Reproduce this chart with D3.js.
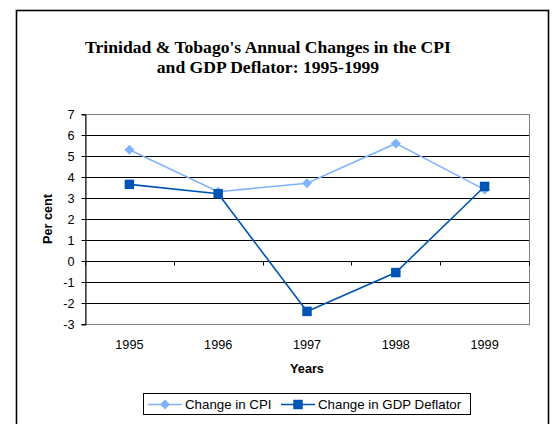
<!DOCTYPE html>
<html>
<head>
<meta charset="utf-8">
<script src="https://cdn.jsdelivr.net/npm/d3@7"></script>
<style>
  body { margin: 0; background: #fff; }
  svg { display: block; }
</style>
</head>
<body>
<div id="chart"></div>
<script>
'use strict';

// data
const years = ['1995', '1996', '1997', '1998', '1999'];
const cpi = [5.3, 3.3, 3.7, 5.6, 3.4];
const deflator = [3.65, 3.2, -2.4, -0.55, 3.55];
const yTicks = [-3, -2, -1, 0, 1, 2, 3, 4, 5, 6, 7];
const seriesNames = ['Change in CPI', 'Change in GDP Deflator'];

const width = 554;
const height = 424;
const plot = {left: 85, right: 529, top: 114, bottom: 324};

const cpiColor = '#80b2ff';
const defColor = '#0055b4';
const sans = '"Liberation Sans", Arial, sans-serif';

let svg = d3.select('#chart').append('svg')
    .attr('width', width)
    .attr('height', height);

// outer frame (runs off the bottom of the picture)
svg.append('rect')
    .attr('x', 16.5).attr('y', 10.5)
    .attr('width', 532).attr('height', 440)
    .attr('fill', '#fff')
    .attr('stroke', '#000')
    .attr('stroke-width', 1.6);

// title
let title = svg.append('text')
    .attr('text-anchor', 'middle')
    .style('font-family', '"Liberation Serif", "Times New Roman", serif')
    .style('font-weight', 'bold')
    .style('font-size', '17.6px');
title.append('tspan').attr('x', 268).attr('y', 53)
    .text("Trinidad & Tobago's Annual Changes in the CPI");
title.append('tspan').attr('x', 268).attr('y', 73)
    .text('and GDP Deflator: 1995-1999');

let x = d3.scaleBand()
    .domain(years)
    .range([plot.left, plot.right])
    .padding(0);

let y = d3.scaleLinear()
    .domain([-3, 7])
    .range([plot.bottom, plot.top]);

// gridlines
svg.append('g')
    .selectAll('line')
    .data(yTicks.filter(function(d) { return d > -3 && d < 7; }))
    .enter().append('line')
        .attr('x1', plot.left).attr('x2', plot.right)
        .attr('y1', function(d) { return Math.round(y(d)) + 0.5; })
        .attr('y2', function(d) { return Math.round(y(d)) + 0.5; })
        .attr('stroke', '#000')
        .attr('stroke-width', 1);

// plot area border
svg.append('rect')
    .attr('x', plot.left + 0.5).attr('y', plot.top + 0.5)
    .attr('width', plot.right - plot.left)
    .attr('height', plot.bottom - plot.top)
    .attr('fill', 'none')
    .attr('stroke', '#808080')
    .attr('stroke-width', 1);

// y axis
let yAxis = svg.append('g')
    .attr('transform', 'translate(' + (plot.left + 0.5) + ',0.5)')
    .call(d3.axisLeft(y).tickValues(yTicks).tickSize(4).tickPadding(7)
        .tickFormat(function(d) { return String(d); }));
yAxis.select('.domain').attr('stroke', '#000');
yAxis.selectAll('.tick text')
    .attr('fill', '#000')
    .style('font-family', sans)
    .style('font-size', '12.7px');
yAxis.selectAll('.tick').attr('transform', function(d) {
    return 'translate(0,' + Math.round(y(d)) + ')';
});

// x axis along zero, ticks at category boundaries
let xAxisG = svg.append('g')
    .attr('transform', 'translate(0,' + (Math.round(y(0)) + 0.5) + ')');
xAxisG.append('line')
    .attr('x1', plot.left).attr('x2', plot.right)
    .attr('stroke', '#000');
xAxisG.selectAll('.xt')
    .data(years.concat(['end']))
    .enter().append('line')
        .attr('class', 'xt')
        .attr('x1', function(d, i) { return Math.round(plot.left + i * x.step()) + 0.5; })
        .attr('x2', function(d, i) { return Math.round(plot.left + i * x.step()) + 0.5; })
        .attr('y1', 0).attr('y2', 4)
        .attr('stroke', '#000');

// year labels under the plot
svg.append('g')
    .selectAll('text')
    .data(years)
    .enter().append('text')
        .attr('x', function(d) { return x(d) + x.bandwidth() / 2; })
        .attr('y', 349)
        .attr('text-anchor', 'middle')
        .style('font-family', sans)
        .style('font-size', '12.7px')
        .text(function(d) { return d; });

// axis titles
svg.append('text')
    .attr('x', 307).attr('y', 373)
    .attr('text-anchor', 'middle')
    .style('font-family', sans)
    .style('font-weight', 'bold')
    .style('font-size', '12.7px')
    .text('Years');

svg.append('text')
    .attr('transform', 'translate(52,' + ((plot.top + plot.bottom) / 2) + ')rotate(-90)')
    .attr('text-anchor', 'middle')
    .style('font-family', sans)
    .style('font-weight', 'bold')
    .style('font-size', '12.7px')
    .text('Per cent');

let line = d3.line()
    .x(function(d, i) { return x(years[i]) + x.bandwidth() / 2; })
    .y(function(d) { return y(d); });

let diamond = d3.symbol().type(d3.symbolDiamond2).size(64);
let square = d3.symbol().type(d3.symbolSquare).size(90);

function drawSeries(values, color, symbol) {
    svg.append('path')
        .datum(values)
        .attr('fill', 'none')
        .attr('stroke', color)
        .attr('stroke-width', 1.6)
        .attr('d', line);
    svg.append('g')
        .selectAll('path')
        .data(values)
        .enter().append('path')
            .attr('transform', function(d, i) {
                return 'translate(' + (x(years[i]) + x.bandwidth() / 2) + ',' + y(d) + ')';
            })
            .attr('d', symbol)
            .attr('fill', color);
}

drawSeries(cpi, cpiColor, diamond);
drawSeries(deflator, defColor, square);

// legend
let legend = svg.append('g');
legend.append('rect')
    .attr('x', 143.5).attr('y', 393.5)
    .attr('width', 327).attr('height', 21)
    .attr('fill', '#fff')
    .attr('stroke', '#000')
    .attr('stroke-width', 1);

let legendItems = [
    {name: seriesNames[0], color: cpiColor, symbol: diamond, x0: 148},
    {name: seriesNames[1], color: defColor, symbol: square, x0: 281}
];
legendItems.forEach(function(it) {
    legend.append('line')
        .attr('x1', it.x0).attr('x2', it.x0 + 34)
        .attr('y1', 404.5).attr('y2', 404.5)
        .attr('stroke', it.color)
        .attr('stroke-width', 1.6);
    legend.append('path')
        .attr('transform', 'translate(' + (it.x0 + 17) + ',404.5)')
        .attr('d', it.symbol)
        .attr('fill', it.color);
    legend.append('text')
        .attr('x', it.x0 + 37).attr('y', 409)
        .style('font-family', sans)
        .style('font-size', '13.3px')
        .text(it.name);
});
</script>
</body>
</html>
